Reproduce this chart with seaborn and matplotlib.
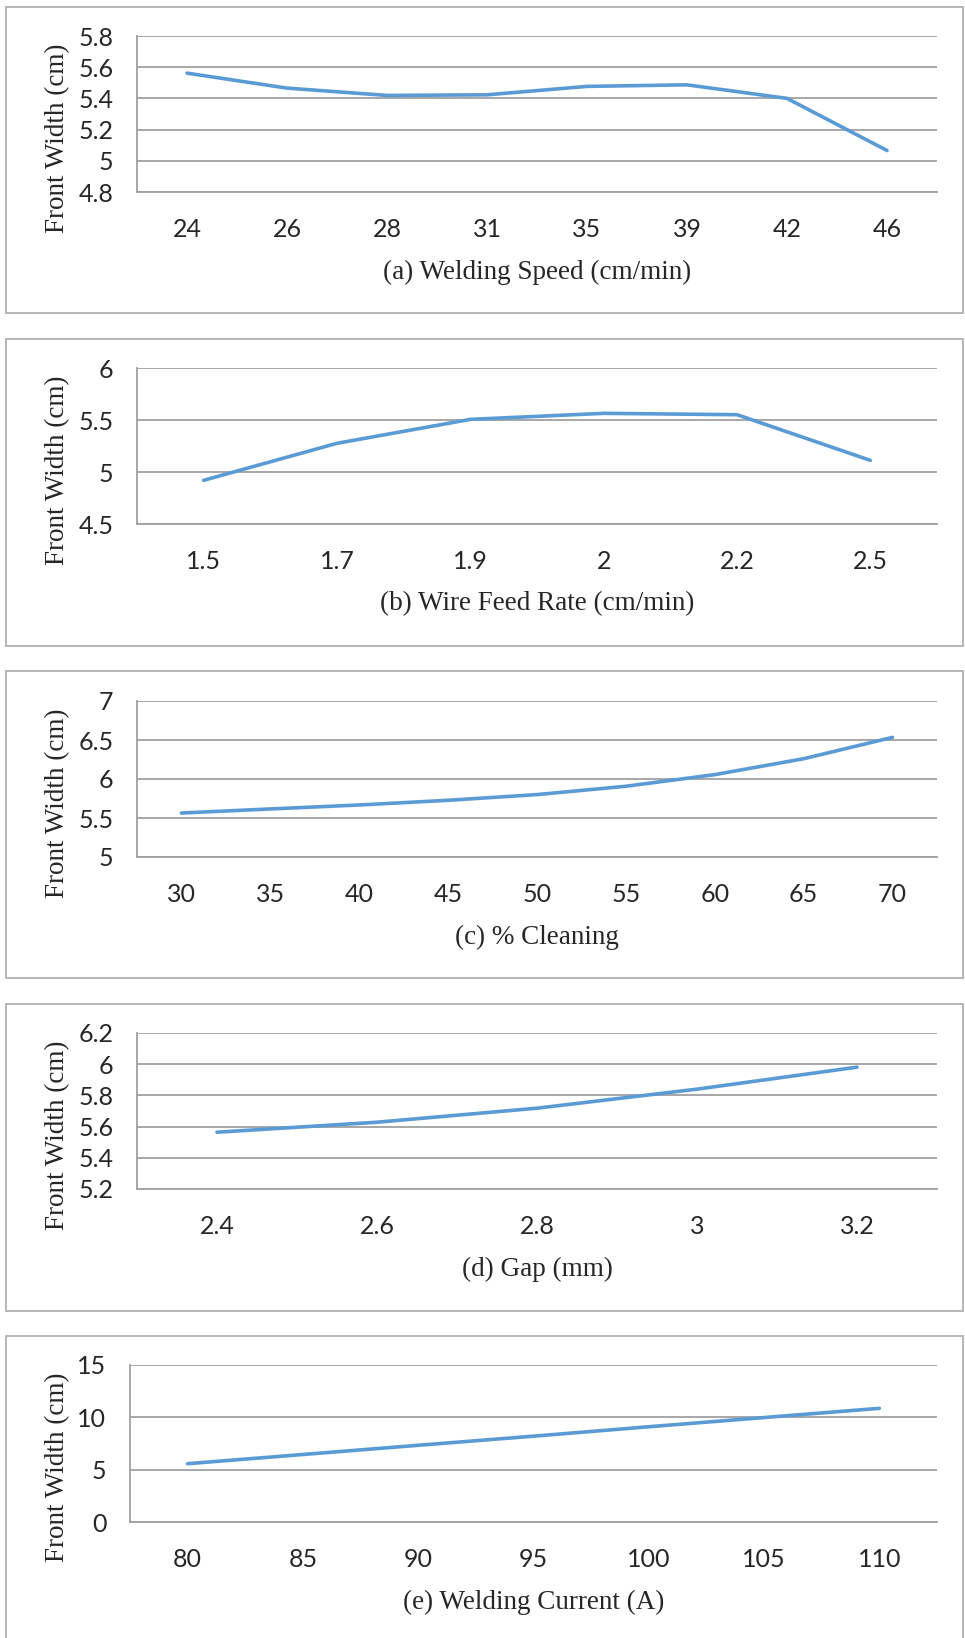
import matplotlib
matplotlib.use("Agg")
import matplotlib.pyplot as plt
import seaborn as sns

# data
speed = ["24", "26", "28", "31", "35", "39", "42", "46"]
speed_fw = [5.562, 5.466, 5.419, 5.423, 5.477, 5.487, 5.40, 5.066]

feed = ["1.5", "1.7", "1.9", "2", "2.2", "2.5"]
feed_fw = [4.92, 5.276, 5.506, 5.564, 5.551, 5.112]

cleaning = ["30", "35", "40", "45", "50", "55", "60", "65", "70"]
cleaning_fw = [5.564, 5.616, 5.667, 5.727, 5.80, 5.907, 6.056, 6.26, 6.534]

gap = ["2.4", "2.6", "2.8", "3", "3.2"]
gap_fw = [5.564, 5.628, 5.718, 5.84, 5.981]

current = ["80", "85", "90", "95", "100", "105", "110"]
current_fw = [5.57, 6.45, 7.33, 8.2, 9.1, 9.98, 10.86]

yticks_a = [4.8, 5.0, 5.2, 5.4, 5.6, 5.8]
ylabels_a = ["4.8", "5", "5.2", "5.4", "5.6", "5.8"]
yticks_b = [4.5, 5.0, 5.5, 6.0]
ylabels_b = ["4.5", "5", "5.5", "6"]
yticks_c = [5.0, 5.5, 6.0, 6.5, 7.0]
ylabels_c = ["5", "5.5", "6", "6.5", "7"]
yticks_d = [5.2, 5.4, 5.6, 5.8, 6.0, 6.2]
ylabels_d = ["5.2", "5.4", "5.6", "5.8", "6", "6.2"]
yticks_e = [0, 5, 10, 15]
ylabels_e = ["0", "5", "10", "15"]

sns.set_style("white")
plt.rcParams["font.family"] = ["Lato", "DejaVu Sans"]

W, H = 965, 1638
fig = plt.figure(figsize=(W / 100, H / 100), dpi=100)

grid_col = "#a0a0a0"
line_col = "#5b9bd5"
serif = ["Liberation Serif", "DejaVu Serif"]

panels = [
    # cats, vals, xlabel, yticks, ylabels, (left, top, bottom) of plot, (top, bottom) of frame
    (speed, speed_fw, "(a) Welding Speed (cm/min)", yticks_a, ylabels_a, (137, 36, 192), (7, 313)),
    (feed, feed_fw, "(b) Wire Feed Rate (cm/min)", yticks_b, ylabels_b, (137, 368, 524), (339, 646)),
    (cleaning, cleaning_fw, "(c) % Cleaning", yticks_c, ylabels_c, (137, 701, 857), (671, 978)),
    (gap, gap_fw, "(d) Gap (mm)", yticks_d, ylabels_d, (137, 1033, 1189), (1004, 1311)),
    (current, current_fw, "(e) Welding Current (A)", yticks_e, ylabels_e, (130, 1365, 1522), (1336, 1640)),
]

right = 937
for cats, vals, xlab, yt, yl, (left, top, bottom), (ft, fb) in panels:
    # panel frame
    fig.patches.append(plt.Rectangle((6 / W, 1 - fb / H), (963 - 6) / W, (fb - ft) / H,
                                     transform=fig.transFigure, fill=False,
                                     ec="#b0b0b0", lw=1.3))
    ax = fig.add_axes([left / W, 1 - bottom / H, (right - left) / W, (bottom - top) / H])
    pos = list(range(len(cats)))
    sns.lineplot(x=pos, y=vals, ax=ax, color=line_col, lw=2.6, sort=False)
    ax.set_xlim(-0.5, len(cats) - 0.5)
    ax.set_ylim(yt[0], yt[-1])
    ax.set_yticks(yt, yl)
    ax.set_xticks(pos, cats)
    ax.yaxis.grid(True, color=grid_col, lw=1.3)
    ax.set_axisbelow(True)
    for s in ["top", "right"]:
        ax.spines[s].set_visible(False)
    for s in ["left", "bottom"]:
        ax.spines[s].set_color(grid_col)
        ax.spines[s].set_linewidth(1.3)
    ax.tick_params(axis="y", length=8, width=1.3, color=grid_col, pad=9, labelsize=18)
    ax.tick_params(axis="x", length=0, pad=19, labelsize=18)
    ax.set_xlabel(xlab, fontfamily=serif, fontsize=19.5)
    ax.xaxis.set_label_coords(0.5, -80 / (bottom - top))
    ax.xaxis.label.set_va("center")
    ax.set_ylabel("Front Width (cm)", fontfamily=serif, fontsize=19.5)
    ax.yaxis.set_label_coords((58 - left) / (right - left), 0.346)
    ax.yaxis.label.set_va("center")

fig.savefig("out.png", dpi=100)
